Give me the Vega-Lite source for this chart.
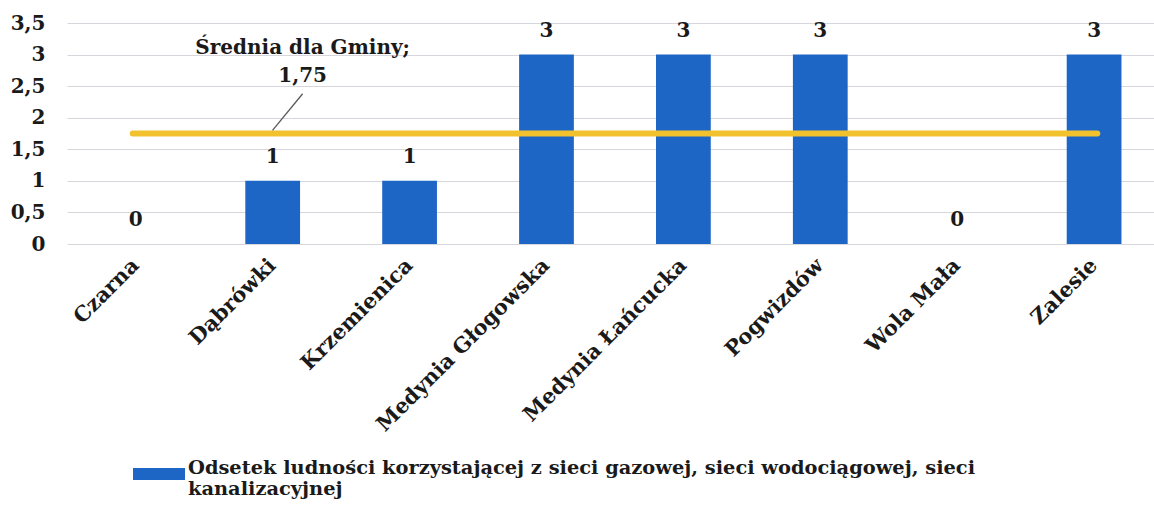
{
  "$schema": "https://vega.github.io/schema/vega-lite/v6.json",
  "autosize": {"type": "none"},
  "padding": {"left": 67, "top": 23, "right": 0, "bottom": 267},
  "width": 1087,
  "height": 221,
  "background": "white",
  "config": {
    "view": {"stroke": null},
    "font": "DejaVu Serif",
    "axis": {"labelFont": "DejaVu Serif", "labelFontWeight": "bold", "labelColor": "#1a1a1a"}
  },
  "datasets": {
    "bars": [
      {"gmina": "Czarna", "value": 0, "series": "Odsetek ludności korzystającej z sieci gazowej, sieci wodociągowej, sieci kanalizacyjnej"},
      {"gmina": "Dąbrówki", "value": 1, "series": "Odsetek ludności korzystającej z sieci gazowej, sieci wodociągowej, sieci kanalizacyjnej"},
      {"gmina": "Krzemienica", "value": 1, "series": "Odsetek ludności korzystającej z sieci gazowej, sieci wodociągowej, sieci kanalizacyjnej"},
      {"gmina": "Medynia Głogowska", "value": 3, "series": "Odsetek ludności korzystającej z sieci gazowej, sieci wodociągowej, sieci kanalizacyjnej"},
      {"gmina": "Medynia Łańcucka", "value": 3, "series": "Odsetek ludności korzystającej z sieci gazowej, sieci wodociągowej, sieci kanalizacyjnej"},
      {"gmina": "Pogwizdów", "value": 3, "series": "Odsetek ludności korzystającej z sieci gazowej, sieci wodociągowej, sieci kanalizacyjnej"},
      {"gmina": "Wola Mała", "value": 0, "series": "Odsetek ludności korzystającej z sieci gazowej, sieci wodociągowej, sieci kanalizacyjnej"},
      {"gmina": "Zalesie", "value": 3, "series": "Odsetek ludności korzystającej z sieci gazowej, sieci wodociągowej, sieci kanalizacyjnej"}
    ],
    "mean": [{"x1": 0.48, "x2": 7.52, "value": 1.75}],
    "leader": [{"x1": 1.5, "value": 1.8, "x2": 1.72, "value2": 2.38}],
    "annot": [
      {"x": 1.72, "value": 3.1, "text": "Średnia dla Gminy;"},
      {"x": 1.72, "value": 2.66, "text": "1,75"}
    ]
  },
  "encoding": {
    "y": {
      "field": "value", "type": "quantitative",
      "scale": {"domain": [0, 3.5], "nice": false},
      "axis": {"title": null, "values": [0, 0.5, 1, 1.5, 2, 2.5, 3, 3.5], "labelExpr": "replace(format(datum.value, '~g'), '.', ',')", "labelOverlap": false, "labelFlush": false, "labelFontSize": 20, "labelPadding": 22, "ticks": false, "domain": false, "grid": true, "gridColor": "#d6d6dc", "gridWidth": 1}
    }
  },
  "layer": [
    {
      "data": {"name": "bars"},
      "encoding": {
        "x": {
          "field": "gmina", "type": "nominal", "sort": null,
          "scale": {"paddingInner": 0.6, "paddingOuter": 0.27, "align": 0.56},
          "axis": {"title": null, "labelAngle": -45, "labelAlign": "right", "labelBaseline": "middle", "labelFontSize": 21, "labelPadding": 18, "labelLimit": 400, "ticks": false, "domain": false, "grid": false}
        }
      },
      "layer": [
        {
          "mark": {"type": "bar", "color": "#1e66c6"},
          "encoding": {
            "color": {
              "field": "series", "type": "nominal",
              "scale": {"range": ["#1e66c6"]},
              "legend": {
                "title": null, "orient": "none", "legendX": 66, "legendY": 425,
                "symbolType": "M-1,-0.23H1V0.23H-1Z", "symbolSize": 2704, "symbolStrokeWidth": 0,
                "labelFont": "DejaVu Serif", "labelFontWeight": "bold", "labelFontSize": 19.4, "labelColor": "#1a1a1a",
                "labelLimit": 2000, "labelOffset": 3, "labelBaseline": "alphabetic", "labelLineHeight": 27,
                "labelExpr": "['Odsetek ludności korzystającej z sieci gazowej, sieci wodociągowej, sieci', 'kanalizacyjnej']"
              }
            }
          }
        },
        {
          "mark": {"type": "text", "baseline": "middle", "dy": -24, "fontSize": 20, "fontWeight": "bold", "font": "DejaVu Serif", "color": "#1a1a1a"},
          "encoding": {"text": {"field": "value", "type": "quantitative"}}
        }
      ]
    },
    {
      "encoding": {
        "x": {"type": "quantitative", "scale": {"domain": [0, 7.934], "nice": false, "zero": false}, "axis": null}
      },
      "layer": [
        {
          "data": {"name": "mean"},
          "mark": {"type": "rule", "color": "#f2c12e", "strokeWidth": 6, "strokeCap": "round"},
          "encoding": {
            "x": {"field": "x1", "type": "quantitative"},
            "x2": {"field": "x2"}
          }
        },
        {
          "data": {"name": "leader"},
          "mark": {"type": "rule", "color": "#595959", "strokeWidth": 1.3},
          "encoding": {
            "x": {"field": "x1", "type": "quantitative"},
            "x2": {"field": "x2"},
            "y2": {"field": "value2"}
          }
        },
        {
          "data": {"name": "annot"},
          "mark": {"type": "text", "baseline": "middle", "align": "center", "fontSize": 20, "fontWeight": "bold", "font": "DejaVu Serif", "color": "#1a1a1a"},
          "encoding": {
            "x": {"field": "x", "type": "quantitative"},
            "text": {"field": "text"}
          }
        }
      ]
    }
  ],
  "resolve": {"scale": {"x": "independent"}}
}
